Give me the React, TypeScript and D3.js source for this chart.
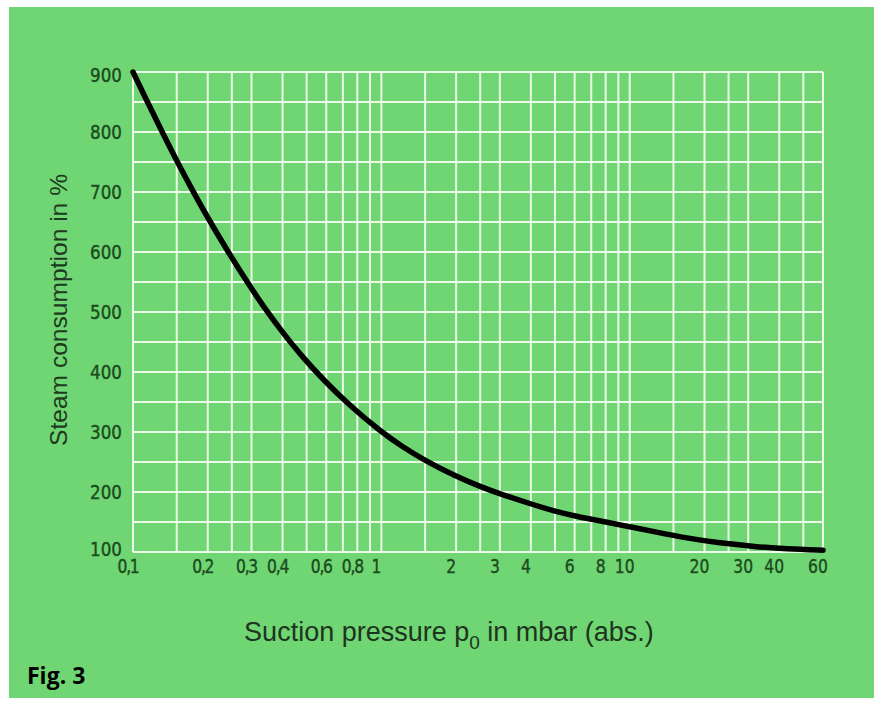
import React from "react";
import * as d3 from "d3";

const pressure = [0.1, 0.115, 0.131, 0.15, 0.175, 0.2, 0.24, 0.29, 0.334, 0.4, 0.47, 0.58, 0.75, 1, 1.2, 1.5, 2, 2.5, 3, 4, 5, 6, 8, 10, 12.5, 17, 23, 32, 43, 60];
const steam = [900, 848, 800, 752, 700, 657, 602, 548, 510, 466, 430, 388, 343, 300, 277, 252, 226, 209, 197, 180, 168, 160, 150, 142, 134, 123, 115, 109, 105, 103];

const gridX = [0.1, 0.15, 0.2, 0.25, 0.3, 0.4, 0.5, 0.6, 0.7, 0.8, 0.9, 1, 1.5, 2, 2.5, 3, 4, 5, 6, 7, 8, 9, 10, 15, 20, 25, 30, 40, 50, 60];
const gridY = [100, 150, 200, 250, 300, 350, 400, 450, 500, 550, 600, 650, 700, 750, 800, 850, 900];
const xTickValues = [0.1, 0.2, 0.3, 0.4, 0.6, 0.8, 1, 2, 3, 4, 6, 8, 10, 20, 30, 40, 60];
const xTickLabels = ["0,1", "0,2", "0,3", "0,4", "0,6", "0,8", "1", "2", "3", "4", "6", "8", "10", "20", "30", "40", "60"];
const yTickValues = [100, 200, 300, 400, 500, 600, 700, 800, 900];

const W = 880;
const H = 704;
const left = 133, right = 823, top = 72, bottom = 552;

export default function App() {
  const x = d3.scaleLog().domain([0.1, 60]).range([left, right]);
  const y = d3.scaleLinear().domain([100, 900]).range([bottom, top]);
  const pts: [number, number][] = pressure.map((p, i) => [x(p), y(steam[i])]);
  const line = d3.line().curve(d3.curveBasis)(pts) || "";
  const green = "#6fd673";
  const gridColor = "#ecfbe8";
  const tickColor = "#1c4a20";
  const tickFont = "'DejaVu Sans', sans-serif";
  return (
    <svg width={W} height={H} style={{ position: "absolute", left: 0, top: 0 }}>
      <rect x={0} y={0} width={W} height={H} fill="#ffffff" />
      <rect x={9} y={7} width={865} height={691} fill={green} />
      {gridY.map((v) => (
        <line key={"gy" + v} x1={left} x2={right} y1={y(v)} y2={y(v)} stroke={gridColor} strokeWidth={2} />
      ))}
      {gridX.map((v) => (
        <line key={"gx" + v} x1={x(v)} x2={x(v)} y1={top} y2={bottom} stroke={gridColor} strokeWidth={2} />
      ))}
      <path d={line} fill="none" stroke="#000000" strokeWidth={5.5} strokeLinecap="round" />
      {yTickValues.map((v) => (
        <g key={"yt" + v} transform={`translate(122, ${y(v) + (v === 900 ? 3 : v === 100 ? -3 : 0)}) scale(0.88, 1)`}>
          <text
            dy="0.35em"
            textAnchor="end"
            fontFamily={tickFont}
            fontSize={19}
            fill={tickColor}
            stroke={tickColor}
            strokeWidth={0.4}
          >
            {v}
          </text>
        </g>
      ))}
      {xTickValues.map((v, i) => (
        <g key={"xt" + v} transform={`translate(${x(v) - 5}, 573) scale(0.82, 1)`}>
          <text
            textAnchor="middle"
            fontFamily={tickFont}
            fontSize={19}
            letterSpacing={xTickLabels[i].includes(",") ? -1.5 : 0}
            fill={tickColor}
            stroke={tickColor}
            strokeWidth={0.4}
          >
            {xTickLabels[i]}
          </text>
        </g>
      ))}
      <text
        transform={`translate(67, ${310}) rotate(-90)`}
        textAnchor="middle"
        fontFamily="'Liberation Sans', Arial, sans-serif"
        fontSize={24}
        textLength={272}
        lengthAdjust="spacingAndGlyphs"
        fill="#1e3a20"
      >
        Steam consumption in %
      </text>
      <text
        x={449}
        y={641}
        textAnchor="middle"
        fontFamily="'Liberation Sans', Arial, sans-serif"
        fontSize={27}
        fill="#1e3320"
      >
        Suction pressure p<tspan fontSize={19} dy={8}>0</tspan><tspan dy={-8}> in mbar (abs.)</tspan>
      </text>
      <text x={27} y={684} fontFamily="'Open Sans', sans-serif" fontWeight={700} fontSize={23} fill="#000000">
        Fig. 3
      </text>
    </svg>
  );
}
